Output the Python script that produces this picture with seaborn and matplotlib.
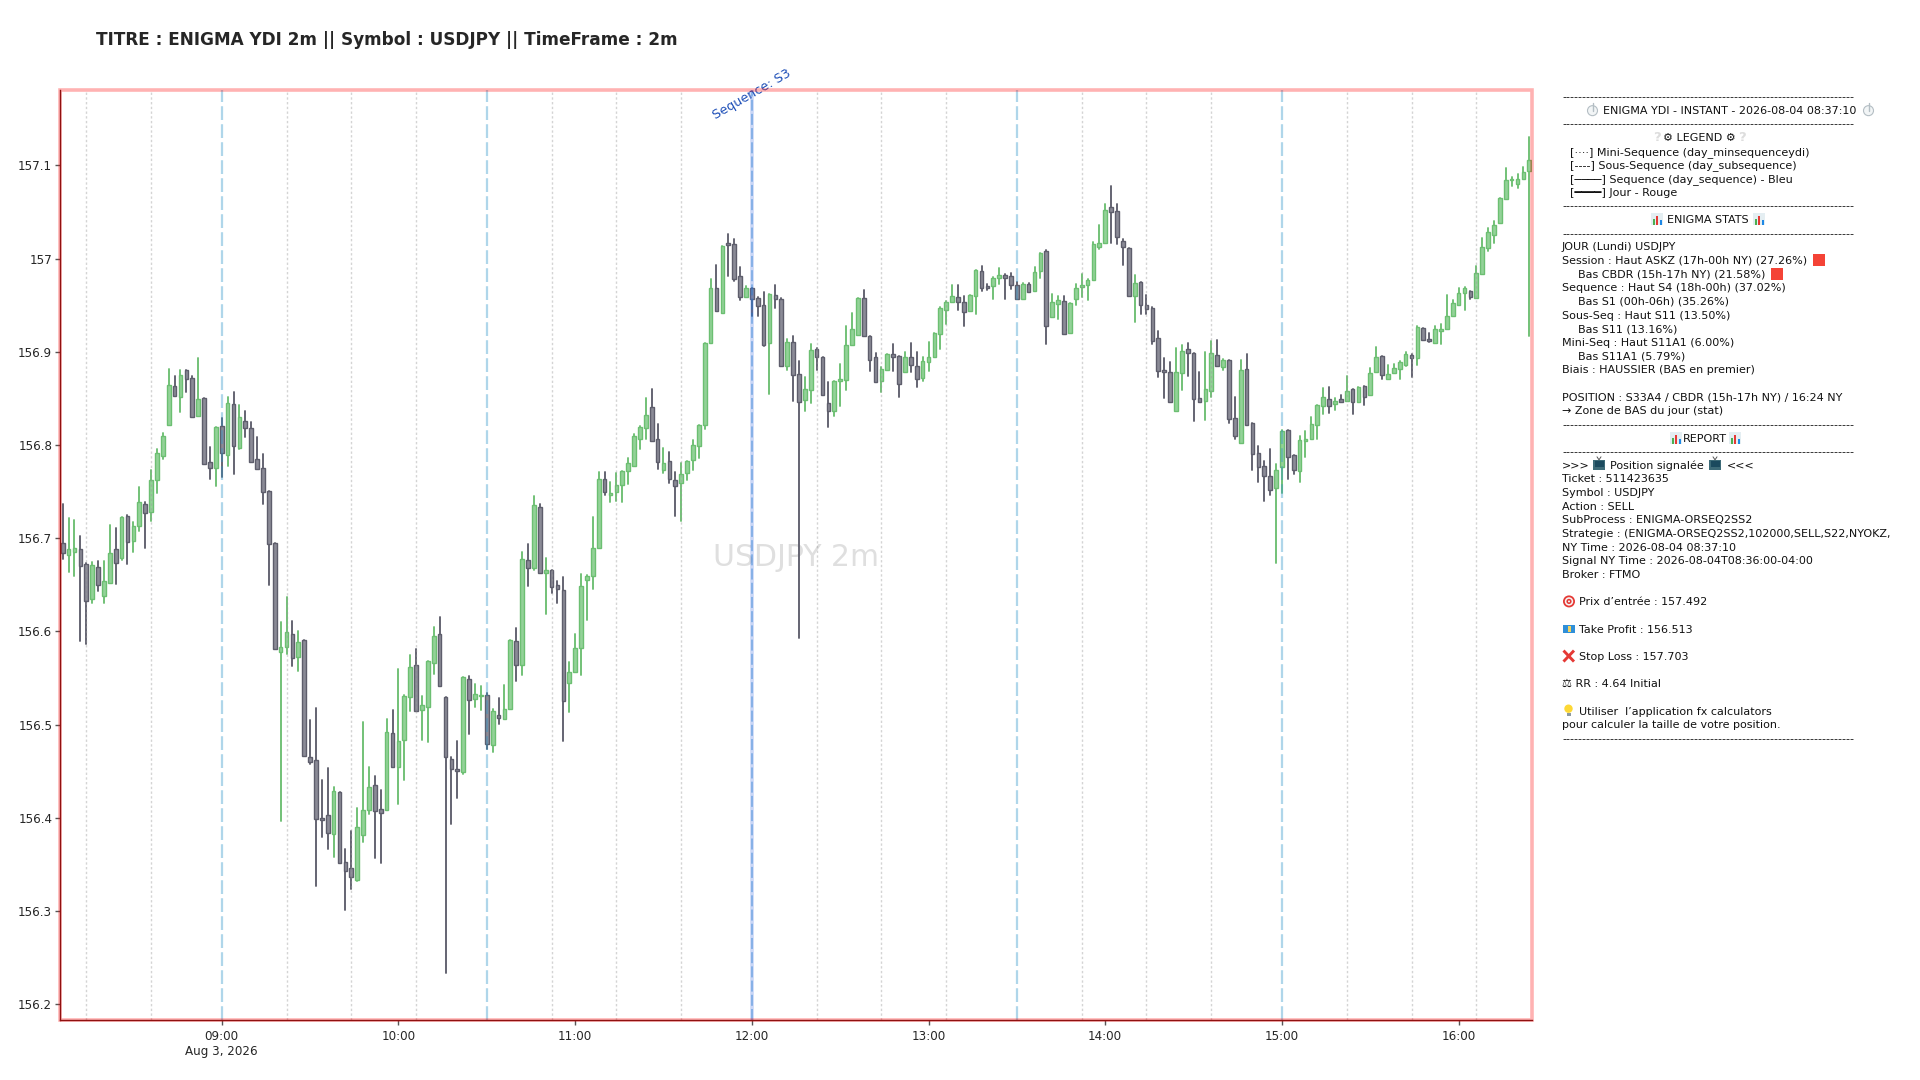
import pandas as pd
import numpy as np
import matplotlib
matplotlib.use("Agg")
import matplotlib.pyplot as plt
import matplotlib.dates as mdates
from matplotlib.patches import Rectangle, Circle
import seaborn as sns

# -----------------------------
# 1. Data
# -----------------------------
open_prices = [
    156.695, 156.682, 156.685, 156.688, 156.672, 156.635, 156.669, 156.638, 156.652, 156.688,
    156.679, 156.724, 156.697, 156.713, 156.737, 156.728, 156.762, 156.788, 156.822, 156.863,
    156.852, 156.880, 156.872, 156.831, 156.850, 156.782, 156.775, 156.820, 156.789, 156.844,
    156.797, 156.826, 156.818, 156.785, 156.775, 156.751, 156.695, 156.578, 156.583, 156.597,
    156.573, 156.591, 156.465, 156.462, 156.400, 156.403, 156.383, 156.428, 156.353, 156.346,
    156.333, 156.382, 156.408, 156.435, 156.409, 156.408, 156.491, 156.455, 156.484, 156.530,
    156.564, 156.516, 156.519, 156.566, 156.597, 156.530, 156.463, 156.452, 156.449, 156.549,
    156.528, 156.531, 156.532, 156.478, 156.510, 156.506, 156.517, 156.590, 156.564, 156.677,
    156.668, 156.734, 156.663, 156.666, 156.650, 156.644, 156.545, 156.556, 156.582, 156.655,
    156.659, 156.689, 156.764, 156.746, 156.750, 156.757, 156.772, 156.778, 156.807, 156.818,
    156.841, 156.806, 156.773, 156.783, 156.762, 156.759, 156.770, 156.784, 156.799, 156.821,
    156.909, 156.969, 156.942, 157.017, 157.016, 156.981, 156.959, 156.968, 156.958, 156.950,
    156.909, 156.961, 156.957, 156.885, 156.911, 156.876, 156.848, 156.859, 156.903, 156.895,
    156.845, 156.836, 156.869, 156.870, 156.907, 156.918, 156.958, 156.917, 156.894, 156.869,
    156.881, 156.898, 156.896, 156.878, 156.894, 156.885, 156.872, 156.889, 156.894, 156.919,
    156.945, 156.953, 156.959, 156.954, 156.944, 156.960, 156.987, 156.971, 156.971, 156.979,
    156.983, 156.981, 156.972, 156.957, 156.973, 156.965, 156.987, 157.008, 156.937, 156.951,
    156.955, 156.920, 156.957, 156.970, 156.972, 156.977, 157.012, 157.017, 157.055, 157.051,
    157.019, 157.011, 156.960, 156.975, 156.950, 156.947, 156.915, 156.880, 156.878, 156.837,
    156.877, 156.903, 156.899, 156.850, 156.847, 156.858, 156.897, 156.884, 156.891, 156.829,
    156.802, 156.882, 156.824, 156.791, 156.777, 156.767, 156.754, 156.776, 156.816, 156.789,
    156.772, 156.804, 156.806, 156.821, 156.842, 156.849, 156.844, 156.849, 156.847, 156.860,
    156.846, 156.863, 156.854, 156.878, 156.896, 156.871, 156.877, 156.882, 156.886, 156.897,
    156.893, 156.926, 156.914, 156.909, 156.922, 156.924, 156.938, 156.950, 156.963, 156.965,
    156.958, 156.984, 157.011, 157.025, 157.038, 157.064, 157.084, 157.080, 157.085, 157.094,
]
close_prices = [
    156.684, 156.688, 156.689, 156.670, 156.633, 156.671, 156.650, 156.654, 156.684, 156.673,
    156.723, 156.696, 156.713, 156.739, 156.727, 156.763, 156.791, 156.810, 156.864, 156.853,
    156.875, 156.871, 156.830, 156.849, 156.780, 156.775, 156.819, 156.791, 156.845, 156.799,
    156.830, 156.818, 156.782, 156.774, 156.750, 156.694, 156.581, 156.583, 156.599, 156.572,
    156.589, 156.466, 156.460, 156.399, 156.398, 156.384, 156.429, 156.351, 156.343, 156.336,
    156.390, 156.408, 156.433, 156.407, 156.405, 156.492, 156.455, 156.482, 156.531, 156.562,
    156.515, 156.521, 156.568, 156.595, 156.541, 156.465, 156.452, 156.450, 156.551, 156.526,
    156.533, 156.532, 156.479, 156.515, 156.507, 156.517, 156.591, 156.564, 156.678, 156.668,
    156.736, 156.663, 156.666, 156.648, 156.645, 156.525, 156.556, 156.582, 156.649, 156.660,
    156.689, 156.764, 156.750, 156.749, 156.757, 156.772, 156.781, 156.810, 156.819, 156.832,
    156.804, 156.782, 156.781, 156.764, 156.756, 156.769, 156.783, 156.800, 156.821, 156.910,
    156.968, 156.944, 157.014, 157.015, 156.978, 156.959, 156.968, 156.957, 156.949, 156.907,
    156.962, 156.957, 156.885, 156.911, 156.875, 156.846, 156.860, 156.902, 156.895, 156.854,
    156.836, 156.869, 156.871, 156.907, 156.925, 156.958, 156.917, 156.891, 156.868, 156.882,
    156.898, 156.895, 156.865, 156.894, 156.886, 156.871, 156.890, 156.894, 156.920, 156.947,
    156.953, 156.960, 156.954, 156.943, 156.961, 156.988, 156.969, 156.969, 156.979, 156.982,
    156.979, 156.972, 156.957, 156.973, 156.964, 156.986, 157.006, 156.928, 156.954, 156.956,
    156.919, 156.952, 156.968, 156.972, 156.977, 157.016, 157.017, 157.052, 157.050, 157.023,
    157.013, 156.960, 156.974, 156.950, 156.946, 156.912, 156.879, 156.878, 156.846, 156.878,
    156.901, 156.899, 156.849, 156.846, 156.860, 156.899, 156.885, 156.891, 156.828, 156.810,
    156.881, 156.822, 156.790, 156.776, 156.767, 156.752, 156.773, 156.815, 156.787, 156.773,
    156.805, 156.806, 156.823, 156.843, 156.852, 156.842, 156.847, 156.846, 156.858, 156.846,
    156.862, 156.852, 156.877, 156.895, 156.875, 156.876, 156.883, 156.889, 156.898, 156.893,
    156.927, 156.913, 156.912, 156.924, 156.924, 156.938, 156.952, 156.963, 156.969, 156.959,
    156.985, 157.013, 157.029, 157.036, 157.065, 157.084, 157.085, 157.085, 157.093, 157.106,
]
high_prices = [
    156.737, 156.722, 156.720, 156.702, 156.673, 156.674, 156.676, 156.676, 156.714, 156.711,
    156.723, 156.725, 156.717, 156.755, 156.739, 156.773, 156.796, 156.813, 156.882, 156.874,
    156.881, 156.881, 156.874, 156.893, 156.850, 156.798, 156.819, 156.829, 156.852, 156.857,
    156.843, 156.837, 156.825, 156.809, 156.790, 156.751, 156.695, 156.610, 156.637, 156.611,
    156.600, 156.591, 156.505, 156.518, 156.441, 156.453, 156.433, 156.428, 156.367, 156.386,
    156.410, 156.503, 156.454, 156.445, 156.430, 156.506, 156.516, 156.560, 156.532, 156.575,
    156.581, 156.531, 156.568, 156.605, 156.615, 156.530, 156.465, 156.482, 156.551, 156.552,
    156.544, 156.541, 156.534, 156.517, 156.529, 156.542, 156.591, 156.604, 156.685, 156.694,
    156.745, 156.737, 156.679, 156.666, 156.654, 156.658, 156.567, 156.597, 156.662, 156.661,
    156.723, 156.771, 156.771, 156.760, 156.770, 156.772, 156.786, 156.812, 156.820, 156.851,
    156.860, 156.823, 156.797, 156.792, 156.771, 156.781, 156.783, 156.805, 156.822, 156.910,
    156.978, 156.993, 157.014, 157.026, 157.021, 156.991, 156.971, 156.969, 156.959, 156.964,
    156.962, 156.972, 156.958, 156.914, 156.917, 156.890, 156.873, 156.908, 156.904, 156.895,
    156.868, 156.869, 156.887, 156.928, 156.942, 156.958, 156.966, 156.917, 156.899, 156.884,
    156.898, 156.908, 156.896, 156.900, 156.910, 156.900, 156.895, 156.911, 156.920, 156.948,
    156.955, 156.972, 156.972, 156.960, 156.961, 156.988, 156.992, 156.973, 156.980, 156.990,
    156.984, 156.985, 156.975, 156.974, 156.974, 156.991, 157.006, 157.009, 156.962, 156.960,
    156.960, 156.952, 156.973, 156.984, 156.978, 157.018, 157.036, 157.059, 157.078, 157.059,
    157.021, 157.011, 156.983, 156.975, 156.961, 156.948, 156.922, 156.893, 156.889, 156.904,
    156.907, 156.910, 156.899, 156.878, 156.900, 156.912, 156.913, 156.892, 156.891, 156.852,
    156.891, 156.898, 156.824, 156.799, 156.783, 156.796, 156.780, 156.816, 156.816, 156.789,
    156.810, 156.815, 156.830, 156.843, 156.861, 156.862, 156.851, 156.854, 156.874, 156.860,
    156.862, 156.863, 156.883, 156.905, 156.896, 156.886, 156.887, 156.890, 156.900, 156.898,
    156.928, 156.926, 156.920, 156.928, 156.930, 156.961, 156.956, 156.968, 156.970, 156.965,
    156.992, 157.022, 157.033, 157.040, 157.065, 157.097, 157.088, 157.091, 157.098, 157.131,
]
low_prices = [
    156.678, 156.664, 156.660, 156.590, 156.586, 156.631, 156.643, 156.630, 156.652, 156.651,
    156.677, 156.672, 156.685, 156.708, 156.690, 156.718, 156.749, 156.785, 156.822, 156.853,
    156.835, 156.857, 156.830, 156.831, 156.780, 156.764, 156.756, 156.766, 156.777, 156.769,
    156.796, 156.809, 156.782, 156.774, 156.737, 156.650, 156.581, 156.397, 156.576, 156.563,
    156.558, 156.466, 156.458, 156.327, 156.379, 156.367, 156.358, 156.351, 156.301, 156.324,
    156.332, 156.374, 156.404, 156.357, 156.351, 156.408, 156.455, 156.415, 156.441, 156.515,
    156.515, 156.484, 156.481, 156.554, 156.541, 156.233, 156.393, 156.421, 156.447, 156.490,
    156.519, 156.516, 156.474, 156.471, 156.501, 156.506, 156.517, 156.547, 156.553, 156.649,
    156.666, 156.663, 156.619, 156.641, 156.631, 156.482, 156.514, 156.556, 156.553, 156.612,
    156.646, 156.689, 156.746, 156.739, 156.740, 156.739, 156.758, 156.777, 156.796, 156.806,
    156.804, 156.774, 156.770, 156.759, 156.724, 156.719, 156.762, 156.773, 156.786, 156.817,
    156.909, 156.944, 156.942, 156.981, 156.976, 156.956, 156.959, 156.938, 156.939, 156.906,
    156.855, 156.947, 156.885, 156.880, 156.847, 156.593, 156.837, 156.845, 156.881, 156.854,
    156.819, 156.831, 156.842, 156.859, 156.907, 156.918, 156.917, 156.879, 156.868, 156.857,
    156.880, 156.879, 156.852, 156.878, 156.878, 156.862, 156.869, 156.879, 156.894, 156.903,
    156.930, 156.953, 156.945, 156.928, 156.944, 156.941, 156.965, 156.966, 156.957, 156.973,
    156.957, 156.967, 156.957, 156.957, 156.964, 156.965, 156.979, 156.908, 156.937, 156.935,
    156.919, 156.920, 156.950, 156.959, 156.956, 156.977, 157.010, 157.017, 157.017, 157.016,
    156.993, 156.960, 156.932, 156.941, 156.941, 156.908, 156.873, 156.851, 156.846, 156.837,
    156.859, 156.874, 156.826, 156.846, 156.827, 156.852, 156.885, 156.881, 156.824, 156.807,
    156.802, 156.822, 156.773, 156.760, 156.740, 156.746, 156.673, 156.748, 156.764, 156.769,
    156.760, 156.787, 156.806, 156.807, 156.833, 156.834, 156.838, 156.846, 156.847, 156.833,
    156.846, 156.843, 156.854, 156.878, 156.871, 156.871, 156.877, 156.871, 156.885, 156.873,
    156.886, 156.913, 156.911, 156.909, 156.908, 156.924, 156.938, 156.950, 156.945, 156.957,
    156.958, 156.984, 157.008, 157.017, 157.038, 157.064, 157.078, 157.076, 157.085, 156.917,
]

y_ticks = [156.2, 156.3, 156.4, 156.5, 156.6, 156.7, 156.8, 156.9, 157.0, 157.1]
y_tick_labels = ["156.2", "156.3", "156.4", "156.5", "156.6", "156.7", "156.8", "156.9", "157", "157.1"]
x_ticks = ["09:00", "10:00", "11:00", "12:00", "13:00", "14:00", "15:00", "16:00"]
mini_seq = ["08:14", "08:36", "09:22", "09:44", "10:06", "10:52", "11:14", "11:36",
            "12:22", "12:44", "13:06", "13:52", "14:14", "14:36", "15:22", "15:44", "16:06"]
seq_lines = ["09:00", "10:30", "13:30", "15:00"]
seq_main = "12:00"

day = "2026-08-03 "
GREEN_EDGE, GREEN_FACE = "#6cbf72", "#93d298"
GREY_EDGE, GREY_FACE = "#5e5e6c", "#8b8b97"

df = pd.DataFrame({"open": open_prices, "high": high_prices, "low": low_prices, "close": close_prices})
df["time"] = mdates.date2num(pd.date_range(day + "08:06", periods=len(df), freq="2min"))
df["up"] = df["close"] >= df["open"]


def t(hhmm):
    return mdates.date2num(pd.Timestamp(day + hhmm))


# -----------------------------
# 2. Figure
# -----------------------------
sns.set_style("ticks")
plt.rcParams["font.family"] = ["DejaVu Sans"]

fig = plt.figure(figsize=(19.2, 10.8), dpi=100)
ax = fig.add_axes([60 / 1920, 1 - 1020 / 1080, 1472 / 1920, 930 / 1080])

# wicks through seaborn, one unit per candle
wicks = df.melt(id_vars=["time", "up"], value_vars=["high", "low"], value_name="price")
wicks["candle"] = wicks["time"]
sns.lineplot(data=wicks, x="time", y="price", units="candle", estimator=None, hue="up",
             palette={True: GREEN_EDGE, False: GREY_EDGE}, linewidth=1.35, legend=False,
             ax=ax, zorder=2)

# bodies
for up, face, edge in [(True, GREEN_FACE, GREEN_EDGE), (False, GREY_FACE, GREY_EDGE)]:
    part = df[df["up"] == up]
    body_low = part[["open", "close"]].min(axis=1)
    body_size = (part["open"] - part["close"]).abs()
    ax.bar(part["time"], body_size, bottom=body_low, width=1.25 / 1440, color=face,
           edgecolor=edge, linewidth=1.0, zorder=3)

# session lines sit on top of the candles
for hhmm in mini_seq:
    ax.axvline(t(hhmm), color="#9a9a9a", alpha=0.42, lw=1, ls=(0, (1.7, 1.7)), zorder=4)
for hhmm in seq_lines:
    ax.axvline(t(hhmm), color="#2e94c8", alpha=0.38, lw=1.6, ls=(0, (6.2, 1.9)), zorder=4)
ax.axvline(t(seq_main), color="#3f6fe0", alpha=0.28, lw=2.6, zorder=4)
ax.axvline(t(seq_main), color="#1f77d0", alpha=0.5, lw=1.1, ls=(0, (7.2, 2.1)), zorder=4)

ax.text(0.5, 0.4975, "USDJPY 2m", transform=ax.transAxes, ha="center", va="center",
        fontsize=21.5, color="#808080", alpha=0.25, zorder=1)
ax.text(t(seq_main), 0.9955, "Sequence: S3", transform=ax.get_xaxis_transform(),
        rotation=30, ha="center", va="center", fontsize=9.2, color="#1f50b8",
        rotation_mode="anchor", clip_on=False, zorder=6)

ax.set_xlim(df["time"].iloc[0] - 55 / 86400, df["time"].iloc[-1] + 55 / 86400)
ax.set_ylim(df["low"].min() - 0.05, df["high"].max() + 0.05)
ax.set_yticks(y_ticks, labels=y_tick_labels)
ax.set_xticks([t(h) for h in x_ticks],
              labels=[x_ticks[0] + "\nAug 3, 2026"] + x_ticks[1:])
ax.tick_params(axis="both", labelsize=8.6, labelcolor="#262626", color="#555555", width=1, length=3.6)
ax.tick_params(axis="y", pad=2)
ax.set_xlabel("")
ax.set_ylabel("")

sns.despine(ax=ax)
for side in ["left", "bottom"]:
    ax.spines[side].set_color("#8f1010")
    ax.spines[side].set_linewidth(1.0)
    ax.spines[side].set_zorder(8)
ax.add_patch(Rectangle((0, 0), 1, 1, transform=ax.transAxes, fill=False, edgecolor="#ff0000",
                       alpha=0.3, lw=2.6, clip_on=False, zorder=7))

# -----------------------------
# 3. Title and report panel
# -----------------------------
ov = fig.add_axes([0, 0, 1, 1], zorder=10)
ov.set_xlim(0, 1920)
ov.set_ylim(1080, 0)
ov.axis("off")

ov.text(96, 40, "TITRE : ENIGMA YDI 2m || Symbol : USDJPY || TimeFrame : 2m", fontsize=12.2,
        fontweight="bold", color="#262626", va="center")

rule = "-" * 73
panel_lines = [
    rule,
    "ENIGMA YDI - INSTANT - 2026-08-04 08:37:10",
    rule,
    "⚙ LEGEND ⚙",
    "[····] Mini-Sequence (day_minsequenceydi)",
    "[----] Sous-Sequence (day_subsequence)",
    "[────] Sequence (day_sequence) - Bleu",
    "[━━━━] Jour - Rouge",
    rule,
    "ENIGMA STATS",
    rule,
    "JOUR (Lundi) USDJPY",
    "Session : Haut ASKZ (17h-00h NY) (27.26%)",
    "Bas CBDR (15h-17h NY) (21.58%)",
    "Sequence : Haut S4 (18h-00h) (37.02%)",
    "Bas S1 (00h-06h) (35.26%)",
    "Sous-Seq : Haut S11 (13.50%)",
    "Bas S11 (13.16%)",
    "Mini-Seq : Haut S11A1 (6.00%)",
    "Bas S11A1 (5.79%)",
    "Biais : HAUSSIER (BAS en premier)",
    "",
    "POSITION : S33A4 / CBDR (15h-17h NY) / 16:24 NY",
    "→ Zone de BAS du jour (stat)",
    rule,
    "REPORT",
    rule,
    ">>>",
    "Ticket : 511423635",
    "Symbol : USDJPY",
    "Action : SELL",
    "SubProcess : ENIGMA-ORSEQ2SS2",
    "Strategie : (ENIGMA-ORSEQ2SS2,102000,SELL,S22,NYOKZ,",
    "NY Time : 2026-08-04 08:37:10",
    "Signal NY Time : 2026-08-04T08:36:00-04:00",
    "Broker : FTMO",
    "",
    "Prix d’entrée : 157.492",
    "",
    "Take Profit : 156.513",
    "",
    "Stop Loss : 157.703",
    "",
    "⚖ RR : 4.64 Initial",
    "",
    "Utiliser  l’application fx calculators",
    "pour calculer la taille de votre position.",
    rule,
]
panel_indent = {1: 1603, 3: 1663, 4: 1570, 5: 1570, 6: 1570, 7: 1570, 9: 1667, 13: 1578, 15: 1578,
                17: 1578, 19: 1578, 25: 1683, 37: 1579, 39: 1579, 41: 1579, 45: 1579}


def line_y(i):
    return 100 + i * 13.66


for i, line in enumerate(panel_lines):
    ov.text(panel_indent.get(i, 1562), line_y(i), line, fontsize=8.05, color="#111111", va="baseline")
ov.text(1610, line_y(27), "Position signalée", fontsize=8.05, color="#111111", va="baseline")
ov.text(1727, line_y(27), "<<<", fontsize=8.05, color="#111111", va="baseline")


# small picture icons in place of the colour emoji
def bars_icon(x, i):
    y = line_y(i) - 10
    ov.add_patch(Rectangle((x, y), 12, 12, color="#e4eef2", lw=0))
    for off, h, c in [(1.5, 6, "#4caf50"), (5, 9, "#e53935"), (8.5, 4.5, "#1e88e5")]:
        ov.add_patch(Rectangle((x + off, y + 12 - h), 2.4, h, color=c, lw=0))


def square_icon(x, i):
    ov.add_patch(Rectangle((x, line_y(i) - 9.5), 12, 12, color="#f44336", lw=0))


def tv_icon(x, i):
    y = line_y(i) - 9
    ov.add_patch(Rectangle((x, y), 12, 10, color="#3d6b78", lw=0))
    ov.add_patch(Rectangle((x + 1.5, y + 1.5), 9, 6, color="#1b4a5e", lw=0))
    ov.plot([x + 4, x + 6, x + 8], [y - 3, y, y - 3], color="#555555", lw=0.7)


def target_icon(x, i):
    y = line_y(i) - 4
    for r, c in [(6, "#e53935"), (4.2, "#f5f5f5"), (2.6, "#e53935"), (1, "#f5f5f5")]:
        ov.add_patch(Circle((x + 6, y), r, color=c, lw=0))


def euro_icon(x, i):
    y = line_y(i) - 8
    ov.add_patch(Rectangle((x, y), 12, 8, color="#2f8fd8", lw=0))
    ov.add_patch(Rectangle((x + 4.5, y + 1), 3, 6, color="#f4d35e", lw=0))


def cross_icon(x, i):
    y = line_y(i) - 4
    ov.plot([x + 0.5, x + 11], [y - 5.5, y + 5.5], color="#e53935", lw=2.1, solid_capstyle="butt")
    ov.plot([x + 0.5, x + 11], [y + 5.5, y - 5.5], color="#e53935", lw=2.1, solid_capstyle="butt")


def bulb_icon(x, i):
    y = line_y(i) - 6
    ov.add_patch(Circle((x + 5.5, y), 4.2, color="#fdd835", lw=0))
    ov.add_patch(Rectangle((x + 3.5, y + 4), 4, 3.5, color="#8d9aa0", lw=0))


def clock_icon(x, i):
    y = line_y(i) - 3
    ov.add_patch(Circle((x + 5.5, y), 5, facecolor="#f2f5f6", edgecolor="#b4bec4", lw=0.8))
    ov.plot([x + 5.5, x + 5.5], [y - 8, y], color="#b4bec4", lw=1)


clock_icon(1587, 1)
clock_icon(1863, 1)
for x in [1653, 1738]:
    ov.text(x, line_y(3), "?", fontsize=9.5, fontweight="bold", color="#dddddd", va="baseline")
bars_icon(1651, 9)
bars_icon(1753, 9)
square_icon(1813, 12)
square_icon(1771, 13)
bars_icon(1670, 25)
bars_icon(1729, 25)
tv_icon(1593, 27)
tv_icon(1709, 27)
target_icon(1563, 37)
euro_icon(1563, 39)
cross_icon(1563, 41)
bulb_icon(1563, 45)

fig.savefig("out.png", dpi=100)
